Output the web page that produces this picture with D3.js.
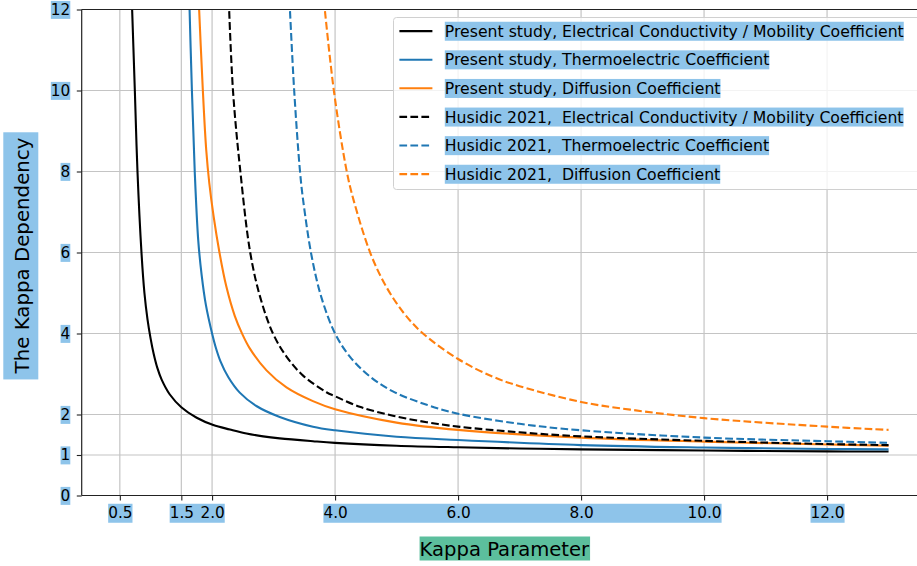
<!DOCTYPE html>
<html>
<head>
<meta charset="utf-8">
<script src="https://cdn.jsdelivr.net/npm/d3@7"></script>
<style>
  body { margin: 0; background: #fff; }
  svg { display: block; font-family: "DejaVu Sans", sans-serif; }
  text { white-space: pre; }
</style>
</head>
<body>
<svg id="chart"></svg>
<script>
// [kappa, dependency], one list per curve
const presentConductivity = [
  [0.689, 12.5], [0.744, 10], [0.787, 8], [0.852, 6], [0.90, 5.0], [0.95, 4.35], [1.0, 3.88],
  [1.05, 3.5], [1.11, 3.15], [1.18, 2.86], [1.31, 2.50], [1.50, 2.18], [1.75, 1.92],
  [2.02, 1.74], [2.29, 1.63], [2.56, 1.53], [2.83, 1.46], [3.10, 1.41], [3.64, 1.34],
  [4.0, 1.30], [5.0, 1.23], [6.0, 1.19], [7.0, 1.16], [8.0, 1.14], [10.0, 1.11],
  [12.0, 1.09], [13.0, 1.085]
];
const presentThermo = [
  [1.625, 12.5], [1.672, 10], [1.718, 8], [1.775, 6.3], [1.83, 5.45], [1.90, 4.7], [2.0, 4.0],
  [2.055, 3.68], [2.135, 3.32], [2.265, 2.92], [2.45, 2.54], [2.72, 2.21], [3.10, 1.94],
  [3.64, 1.70], [4.0, 1.61], [5.0, 1.45], [6.0, 1.37], [8.0, 1.245], [10.0, 1.185],
  [12.0, 1.15], [13.0, 1.14]
];
const presentDiffusion = [
  [1.775, 12.5], [1.85, 10], [1.905, 8.53], [1.955, 7.71], [2.025, 6.89], [2.12, 6.0],
  [2.23, 5.17], [2.37, 4.43], [2.49, 3.99], [2.61, 3.64], [2.885, 3.09], [3.21, 2.67],
  [3.64, 2.33], [4.0, 2.13], [5.0, 1.80], [6.0, 1.62], [8.0, 1.43], [10.0, 1.33],
  [12.0, 1.26], [13.0, 1.23]
];
const husidicConductivity = [
  [2.265, 12.5], [2.34, 10], [2.46, 8], [2.62, 6], [2.78, 4.91], [2.99, 4.0], [3.21, 3.43],
  [3.48, 2.96], [3.86, 2.55], [4.0, 2.45], [4.40, 2.19], [4.94, 1.97], [5.49, 1.81],
  [6.0, 1.70], [7.0, 1.56], [8.0, 1.46], [10.0, 1.35], [12.0, 1.27], [13.0, 1.245]
];
const husidicThermo = [
  [3.25, 12.5], [3.335, 10], [3.43, 8], [3.48, 7.30], [3.62, 5.90], [3.78, 4.88], [4.0, 4.0],
  [4.24, 3.43], [4.565, 2.94], [4.94, 2.57], [5.49, 2.24], [6.0, 2.02], [7.0, 1.77],
  [8.0, 1.61], [10.0, 1.43], [12.0, 1.34], [13.0, 1.30]
];
const husidicDiffusion = [
  [3.80, 12.5], [3.98, 10], [4.19, 8], [4.30, 7.30], [4.575, 5.98], [4.83, 5.16], [5.12, 4.50],
  [5.43, 4.0], [6.0, 3.37], [6.57, 2.93], [7.0, 2.70], [8.0, 2.31], [8.8, 2.12],
  [10.0, 1.91], [12.0, 1.70], [13.0, 1.62]
];

const seriesLabels = [
  'Present study, Electrical Conductivity / Mobility Coefficient',
  'Present study, Thermoelectric Coefficient',
  'Present study, Diffusion Coefficient',
  'Husidic 2021,  Electrical Conductivity / Mobility Coefficient',
  'Husidic 2021,  Thermoelectric Coefficient',
  'Husidic 2021,  Diffusion Coefficient'
];
const xTicks = [0.5, 1.5, 2.0, 4.0, 6.0, 8.0, 10.0, 12.0];
const yTicks = [0, 1, 2, 4, 6, 8, 10, 12];
// tick labels that share one highlight box
const xTickGroups = [[0.5], [1.5, 2.0], [4.0, 6.0, 8.0, 10.0], [12.0]];

const W = 917, H = 566;
const plot = { left: 81.7, right: 927, top: 9.5, bottom: 495.5 };
const boxBlue = '#8ec4ea';
const boxGreen = '#5cbf9d';

const series = [
  { data: presentConductivity, color: '#000000', dashed: false },
  { data: presentThermo, color: '#1f77b4', dashed: false },
  { data: presentDiffusion, color: '#ff7f0e', dashed: false },
  { data: husidicConductivity, color: '#000000', dashed: true },
  { data: husidicThermo, color: '#1f77b4', dashed: true },
  { data: husidicDiffusion, color: '#ff7f0e', dashed: true }
].map((s, i) => ({ ...s, label: seriesLabels[i] }));

const svg = d3.select('#chart').attr('width', W).attr('height', H);

const x = d3.scaleLinear().domain([-0.12, 13.625]).range([plot.left, plot.right]);
const y = d3.scaleLinear().domain([0, 12]).range([plot.bottom, plot.top]);

// put a filled rect behind a text node, sized from its bbox
function boxBehind(node, fill, pad = {}) {
  const b = node.getBBox();
  const l = pad.l || 0, r = pad.r || 0, t = pad.t || 0, bt = pad.b || 0;
  d3.select(node.parentNode).insert('rect', () => node)
    .attr('x', b.x - l).attr('y', b.y - t)
    .attr('width', b.width + l + r).attr('height', b.height + t + bt)
    .attr('fill', fill);
}

svg.append('defs').append('clipPath').attr('id', 'clip')
  .append('rect')
  .attr('x', plot.left).attr('y', plot.top)
  .attr('width', plot.right - plot.left).attr('height', plot.bottom - plot.top);

// Grid
const grid = svg.append('g').attr('stroke', '#c4c4c4').attr('stroke-width', 1.2);
grid.selectAll('.vgrid').data(xTicks).join('line')
  .attr('x1', d => x(d)).attr('x2', d => x(d))
  .attr('y1', plot.top).attr('y2', plot.bottom);
grid.selectAll('.hgrid').data(yTicks).join('line')
  .attr('x1', plot.left).attr('x2', plot.right)
  .attr('y1', d => y(d)).attr('y2', d => y(d));

// Curves
const line = d3.line()
  .x(d => x(d[0]))
  .y(d => y(d[1]))
  .curve(d3.curveCatmullRom.alpha(0.5));

svg.append('g').attr('clip-path', 'url(#clip)')
  .selectAll('path').data(series).join('path')
  .attr('d', d => line(d.data))
  .attr('fill', 'none')
  .attr('stroke', d => d.color)
  .attr('stroke-width', 2.1)
  .attr('stroke-linejoin', 'round')
  .attr('stroke-dasharray', d => d.dashed ? '7.7,3.3' : null);

// Axes
const xAxis = d3.axisBottom(x).tickValues(xTicks).tickFormat(d3.format('.1f'))
  .tickSize(4.9).tickPadding(6.5);
const yAxis = d3.axisLeft(y).tickValues(yTicks).tickFormat(d3.format('d'))
  .tickSize(4.9).tickPadding(6.5);

const gx = svg.append('g').attr('transform', `translate(0,${plot.bottom})`).call(xAxis);
const gy = svg.append('g').attr('transform', `translate(${plot.left},0)`).call(yAxis);

[gx, gy].forEach(g => {
  g.select('.domain').remove();
  g.selectAll('.tick line').attr('stroke', '#222').attr('stroke-width', 1.1);
  g.selectAll('.tick text').attr('fill', '#000').attr('font-size', 15.3)
    .attr('font-family', '"DejaVu Sans", sans-serif');
});

// Spines
svg.append('line').attr('x1', plot.left).attr('x2', plot.left)
  .attr('y1', plot.top).attr('y2', plot.bottom)
  .attr('stroke', '#222').attr('stroke-width', 1.2);
svg.append('line').attr('x1', plot.left).attr('x2', plot.right)
  .attr('y1', plot.bottom).attr('y2', plot.bottom)
  .attr('stroke', '#222').attr('stroke-width', 1.2);
svg.append('line').attr('x1', plot.left).attr('x2', plot.right)
  .attr('y1', plot.top).attr('y2', plot.top)
  .attr('stroke', '#222').attr('stroke-width', 1.2);

// Tick label highlights
gy.selectAll('.tick text').each(function() { boxBehind(this, boxBlue); });

const xTickNodes = new Map();
gx.selectAll('.tick text').each(function(d) { xTickNodes.set(d, this); });
xTickGroups.forEach(group => {
  const boxes = group.map(v => {
    const node = xTickNodes.get(v);
    const b = node.getBBox();
    const m = node.parentNode.transform.baseVal.consolidate().matrix;
    return { x0: b.x + m.e, x1: b.x + b.width + m.e, y0: b.y + m.f, y1: b.y + b.height + m.f };
  });
  gx.insert('rect', ':first-child')
    .attr('x', d3.min(boxes, b => b.x0))
    .attr('y', d3.min(boxes, b => b.y0))
    .attr('width', d3.max(boxes, b => b.x1) - d3.min(boxes, b => b.x0))
    .attr('height', d3.max(boxes, b => b.y1) - d3.min(boxes, b => b.y0) + 1)
    .attr('fill', boxBlue);
});

// Axis labels
const xl = svg.append('text')
  .attr('x', (plot.left + plot.right) / 2).attr('y', 555.5)
  .attr('text-anchor', 'middle').attr('font-size', 19.6)
  .text('Kappa Parameter');
boxBehind(xl.node(), boxGreen, { t: 1 });

const ylg = svg.append('g').attr('transform', 'translate(29.3,255.5) rotate(-90)');
const yl = ylg.append('text')
  .attr('x', 0).attr('y', 0)
  .attr('text-anchor', 'middle').attr('font-size', 19.8)
  .text('The Kappa Dependency');
boxBehind(yl.node(), boxBlue, { t: 8, b: 4, l: 5, r: 5 });

// Legend
const legend = svg.append('g');
const rowY0 = 31.1, rowStep = 28.6;
legend.append('rect')
  .attr('x', 393.5).attr('y', 17.5)
  .attr('width', 920 - 393.5).attr('height', 172)
  .attr('rx', 3)
  .attr('fill', '#fff').attr('fill-opacity', 0.8)
  .attr('stroke', '#d0d0d0').attr('stroke-width', 1);

const rows = legend.selectAll('.row').data(series).join('g')
  .attr('class', 'row')
  .attr('transform', (d, i) => `translate(0,${rowY0 + i * rowStep})`);

rows.append('line')
  .attr('x1', 399.4).attr('x2', 432.4)
  .attr('stroke', d => d.color).attr('stroke-width', 2.1)
  .attr('stroke-dasharray', d => d.dashed ? '7.7,3.3' : null);

rows.append('text')
  .attr('x', 444.8).attr('dy', '0.36em')
  .attr('font-size', 15.7)
  .text(d => d.label)
  .each(function() { boxBehind(this, boxBlue); });
</script>
</body>
</html>
